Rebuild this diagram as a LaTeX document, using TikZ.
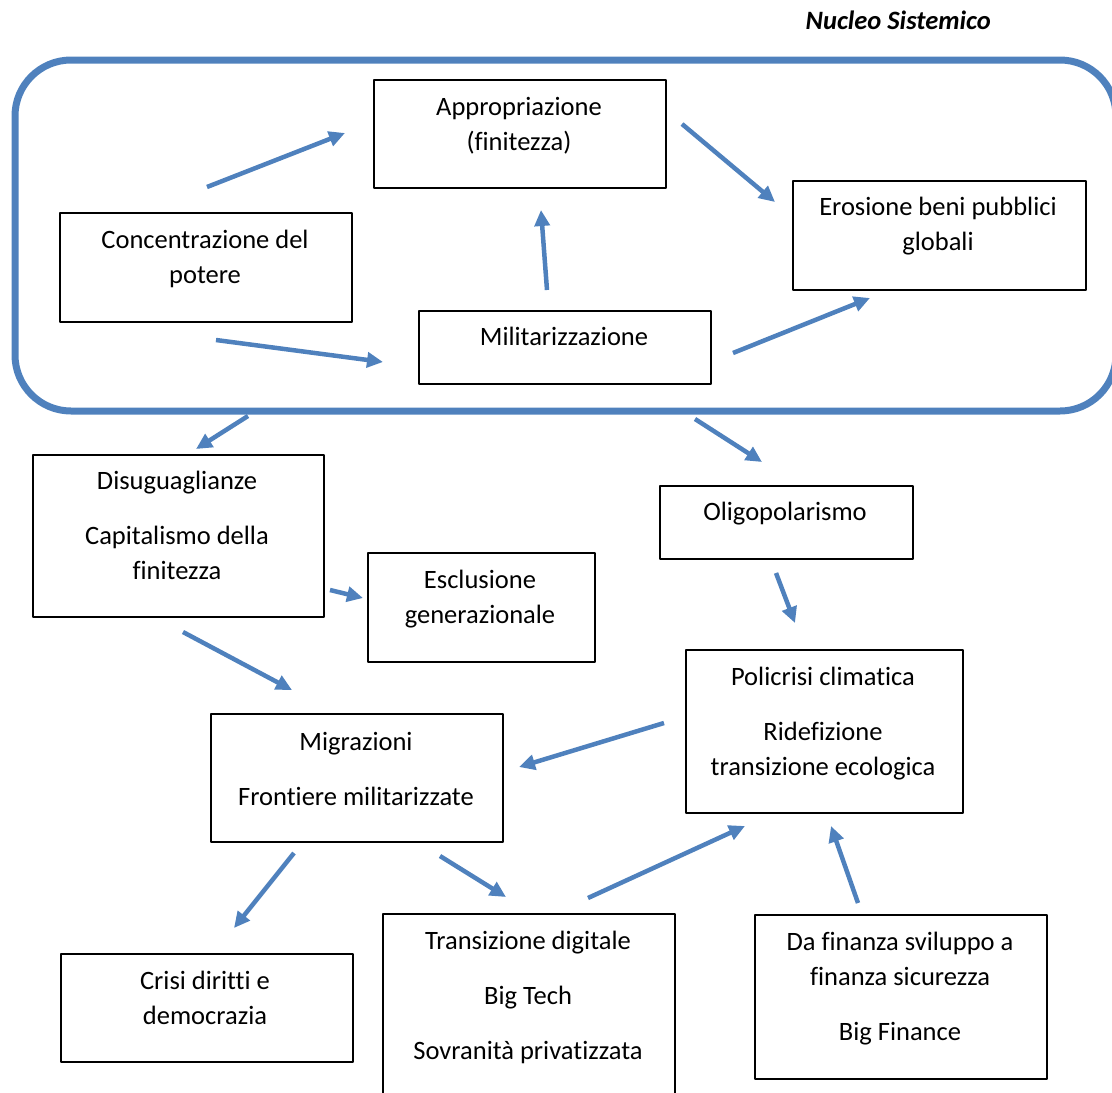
\documentclass[tikz,border=0pt]{standalone}
\usepackage{fontspec}
\setmainfont{Carlito}[Ligatures=CommonOff]
\usetikzlibrary{arrows.meta}
\definecolor{nucleo}{RGB}{79,129,189}
\newcommand{\tp}{\rule{0pt}{20pt}}
\tikzset{
  box/.style={draw=black, line width=1.6pt, anchor=north west, inner sep=0pt},
  txt/.style={anchor=north, align=center, inner sep=0pt},
  arr/.style={draw=nucleo, line width=4.5pt, line cap=butt, -{Triangle[length=16pt,width=15pt]}}
}
\begin{document}
\begin{tikzpicture}[scale=1, font=\fontsize{26.5}{35}\selectfont, line join=round, x=1pt, y=-1pt]
\useasboundingbox (0,0) rectangle (1112,1093);
% nucleo sistemico
\draw[nucleo, line width=7pt, rounded corners=56pt] (15,60) rectangle (1116,411);
\node[anchor=base east, inner sep=0pt] (titolo) at (991,29) {\bfseries\itshape Nucleo Sistemico};
% riquadri
\node[box, minimum width=292, minimum height=108] (appr) at (373,79) {};
\node[box, minimum width=293, minimum height=109] (eros) at (792,180) {};
\node[box, minimum width=292, minimum height=109] (conc) at (59,212) {};
\node[box, minimum width=292, minimum height=73] (milit) at (418,310) {};
\node[box, minimum width=291, minimum height=162] (disug) at (32,454) {};
\node[box, minimum width=253, minimum height=73] (oligo) at (659,485) {};
\node[box, minimum width=227, minimum height=109] (escl) at (367,552) {};
\node[box, minimum width=277, minimum height=163] (poli) at (685,649) {};
\node[box, minimum width=292, minimum height=128] (migr) at (210,713) {};
\node[box, minimum width=292, minimum height=108] (crisi) at (60,953) {};
\node[box, minimum width=292, minimum height=190] (trans) at (382,913) {};
\node[box, minimum width=292, minimum height=164] (fin) at (754,914) {};
% testi
\node[txt] (appr-t) at (519,95) {\tp Appropriazione\\(finitezza)};
\node[txt] (eros-t) at (938,195) {\tp Erosione beni pubblici\\globali};
\node[txt] (conc-t) at (205,228) {\tp Concentrazione del\\potere};
\node[txt] (milit-t) at (564,325) {\tp Militarizzazione};
\node[txt] (disug-t) at (177,469) {\tp Disuguaglianze\\[20pt]Capitalismo della\\finitezza};
\node[txt] (oligo-t) at (785,500) {\tp Oligopolarismo};
\node[txt] (escl-t) at (480,568) {\tp Esclusione\\generazionale};
\node[txt] (poli-t) at (823,665) {\tp Policrisi climatica\\[20pt]Ridefizione\\transizione ecologica};
\node[txt] (migr-t) at (356,730) {\tp Migrazioni\\[20pt]Frontiere militarizzate};
\node[txt] (crisi-t) at (205,969) {\tp Crisi diritti e\\democrazia};
\node[txt] (trans-t) at (528,929) {\tp Transizione digitale\\[20pt]Big Tech\\[20pt]Sovranità privatizzata};
\node[txt] (fin-t) at (900,930) {\tp Da finanza sviluppo a\\finanza sicurezza\\[20pt]Big Finance};
% frecce
\foreach \n/\xa/\ya/\xb/\yb in {conc2appr/207/187/345/133, appr2eros/682/124/775/202,
  milit2appr/547/290/541/210, conc2milit/216/340/383/362, milit2eros/733/353/870/298,
  nucl2disug/248/416/196/449, nucl2oligo/695/419/762/462, disug2escl/330/590/363/598,
  disug2migr/183/632/292/690, oligo2poli/776/573/795/623, poli2migr/664/723/519/767,
  migr2crisi/294/853/234/928, migr2trans/440/856/506/897, trans2poli/588/898/745/826,
  fin2poli/858/903/831/826}{
  \coordinate (\n-a) at (\xa,\ya);
  \coordinate (\n-b) at (\xb,\yb);
  \draw[arr] (\n-a) -- (\n-b);}
\end{tikzpicture}
\end{document}
